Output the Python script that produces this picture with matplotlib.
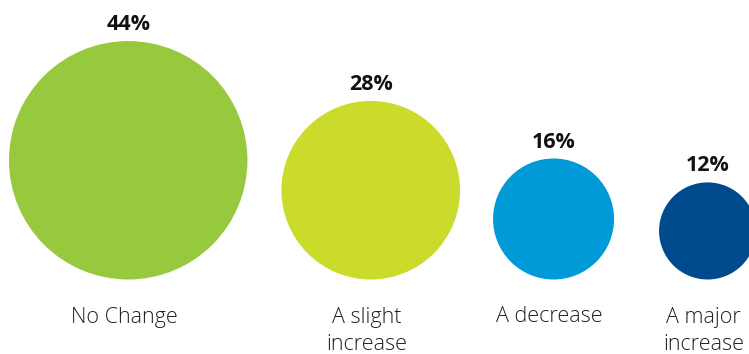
import numpy as np
import matplotlib
matplotlib.use("Agg")
import matplotlib.pyplot as plt
from matplotlib.patches import Circle

# Survey responses
categories = ["No Change", "A slight\nincrease", "A decrease", "A major\nincrease"]
shares = [44, 28, 16, 12]
colors = ["#96C93D", "#CADB2B", "#009AD9", "#004B8D"]

# Bubble geometry (pixels): radius grows with the square root of the share
R_SLOPE, R_OFFSET = 22.3, -28.7
LEFT_MARGIN = 9
GAPS = [34, 33, 45]
BASELINE_Y = 279.5
LABEL_BASELINE = 322.5
LINE_STEP = 28

W, H = 749, 354
fig = plt.figure(figsize=(W / 100, H / 100), dpi=100)
ax = fig.add_axes([0, 0, 1, 1])
ax.set_xlim(0, W)
ax.set_ylim(H, 0)
ax.set_aspect("equal")
ax.axis("off")

font = ["Open Sans", "DejaVu Sans"]

radii = [R_SLOPE * np.sqrt(v) + R_OFFSET for v in shares]
x_left = LEFT_MARGIN
for i, (cat, v, c, r) in enumerate(zip(categories, shares, colors, radii)):
    cx = x_left + r
    cy = BASELINE_Y - r
    ax.add_patch(Circle((cx, cy), r, facecolor=c, edgecolor="none"))
    ax.text(cx, cy - r - 11, f"{v}%", ha="center", va="baseline",
            fontsize=15.5, fontweight="bold", family=font, color="#111111")
    for k, line in enumerate(cat.split("\n")):
        ax.text(cx - 4, LABEL_BASELINE + k * LINE_STEP, line, ha="center",
                va="baseline", fontsize=15.5, fontweight="light",
                family=font, color="#222222")
    if i < len(GAPS):
        x_left = cx + r + GAPS[i]

fig.savefig("out.png", dpi=100)
